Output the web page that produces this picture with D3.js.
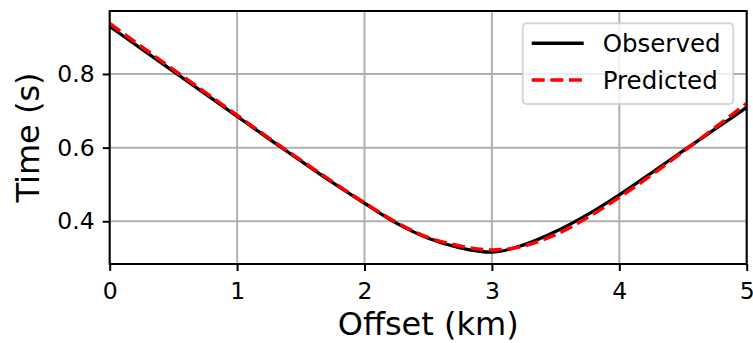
<!doctype html>
<html lang="en">
  <head>
    <meta charset="utf-8">
    <title>traveltime</title>
    <style>
      body {
        margin: 0;
        background: #fff;
      }

      .axis text {
        font: 23.5px "DejaVu Sans", sans-serif;
        fill: #000;
      }

      .axis line {
        stroke: #000;
        stroke-width: 2;
      }

      .axis path {
        display: none;
      }

      .grid line {
        stroke: #b0b0b0;
        stroke-width: 2;
      }

      .label {
        font: 32px "DejaVu Sans", sans-serif;
        fill: #000;
      }

      .legend text {
        font: 24.5px "DejaVu Sans", sans-serif;
        fill: #000;
      }
    </style>
  </head>
  <body>
    <div class="chart"></div>
  <script src="https://d3js.org/d3.v7.min.js"></script>
  <script>
    // offsets (km) and travel times (s)
    const offsets = [0, 0.25, 0.5, 0.75, 1, 1.25, 1.5, 1.75, 2, 2.25, 2.5, 2.75,
                     3, 3.25, 3.5, 3.75, 4, 4.25, 4.5, 4.75, 5];
    const observedTimes = [0.929, 0.868, 0.807, 0.746, 0.685, 0.624, 0.564, 0.505,
                           0.449, 0.395, 0.354, 0.328, 0.316, 0.336, 0.372, 0.418,
                           0.472, 0.531, 0.591, 0.650, 0.709];
    const predictedTimes = [0.937, 0.874, 0.812, 0.750, 0.688, 0.626, 0.566, 0.507,
                            0.450, 0.397, 0.356, 0.333, 0.322, 0.333, 0.364, 0.410,
                            0.465, 0.525, 0.589, 0.654, 0.720];
    const xTicks = [0, 1, 2, 3, 4, 5];
    const yTicks = [0.4, 0.6, 0.8];
    const seriesNames = ['Observed', 'Predicted'];

    const totalWidth = 753;
    const totalHeight = 343;
    const margin = {top: 11, right: 6.3, bottom: 79, left: 109.7};
    const width = totalWidth - margin.left - margin.right;
    const height = totalHeight - margin.top - margin.bottom;

    const xScale = d3.scaleLinear()
        .domain([0, 5])
        .range([0, width]);

    const yScale = d3.scaleLinear()
        .domain([0.284, 0.971])
        .range([height, 0]);

    const svg = d3.select('.chart').append('svg')
        .attr('width', totalWidth)
        .attr('height', totalHeight)
      .append('g')
        .attr('transform', `translate(${margin.left},${margin.top})`);

    function drawGrid(el) {
      const grid = el.append('g').attr('class', 'grid');
      grid.selectAll('.gx')
        .data(xTicks)
        .enter().append('line')
          .attr('class', 'gx')
          .attr('x1', d => xScale(d))
          .attr('x2', d => xScale(d))
          .attr('y1', 0)
          .attr('y2', height);
      grid.selectAll('.gy')
        .data(yTicks)
        .enter().append('line')
          .attr('class', 'gy')
          .attr('x1', 0)
          .attr('x2', width)
          .attr('y1', d => yScale(d))
          .attr('y2', d => yScale(d));
    }

    function drawAxes(el) {
      el.append('g')
          .attr('class', 'axis axis--x')
          .attr('transform', `translate(0,${height})`)
          .call(d3.axisBottom(xScale)
            .tickValues(xTicks)
            .tickFormat(d3.format('d'))
            .tickSize(7)
            .tickPadding(11));

      el.append('g')
          .attr('class', 'axis axis--y')
          .call(d3.axisLeft(yScale)
            .tickValues(yTicks)
            .tickFormat(d3.format('.1f'))
            .tickSize(7)
            .tickPadding(8));

      // frame
      el.append('rect')
          .attr('width', width)
          .attr('height', height)
          .attr('fill', 'none')
          .attr('stroke', '#000')
          .attr('stroke-width', 2);

      el.append('text')
          .attr('class', 'label')
          .attr('x', width / 2)
          .attr('y', height + 71)
          .attr('text-anchor', 'middle')
          .text('Offset (km)');

      el.append('text')
          .attr('class', 'label')
          .attr('transform', `translate(${-71},${height / 2}) rotate(-90)`)
          .attr('text-anchor', 'middle')
          .text('Time (s)');
    }

    const line = d3.line()
        .x((d, i) => xScale(offsets[i]))
        .y(d => yScale(d))
        .curve(d3.curveMonotoneX);

    function drawLines(el) {
      el.append('path')
          .datum(observedTimes)
          .attr('fill', 'none')
          .attr('stroke', '#000')
          .attr('stroke-width', 3.3)
          .attr('d', line);

      el.append('path')
          .datum(predictedTimes)
          .attr('fill', 'none')
          .attr('stroke', '#ff0000')
          .attr('stroke-width', 3.5)
          .attr('stroke-dasharray', '13,5.6')
          .attr('d', line);
    }

    function drawLegend(el) {
      const lg = el.append('g')
          .attr('class', 'legend')
          .attr('transform', `translate(${width - 224},${12.3})`);

      lg.append('rect')
          .attr('width', 210.6)
          .attr('height', 80.7)
          .attr('rx', 4)
          .attr('fill', '#fff')
          .attr('fill-opacity', 0.8)
          .attr('stroke', '#cccccc')
          .attr('stroke-opacity', 0.8)
          .attr('stroke-width', 2);

      const rows = lg.selectAll('.row')
        .data(seriesNames)
        .enter().append('g')
          .attr('class', 'row')
          .attr('transform', (d, i) => `translate(0,${20 + i * 36.7})`);

      rows.append('line')
          .attr('x1', 9)
          .attr('x2', 61)
          .attr('stroke', (d, i) => i === 0 ? '#000' : '#ff0000')
          .attr('stroke-width', 3.5)
          .attr('stroke-dasharray', (d, i) => i === 0 ? null : '13,5.6');

      rows.append('text')
          .attr('x', 80)
          .attr('y', 8.5)
          .text(d => d);
    }

    drawGrid(svg);
    drawLines(svg);
    drawAxes(svg);
    drawLegend(svg);
  </script>
  </body>
</html>
